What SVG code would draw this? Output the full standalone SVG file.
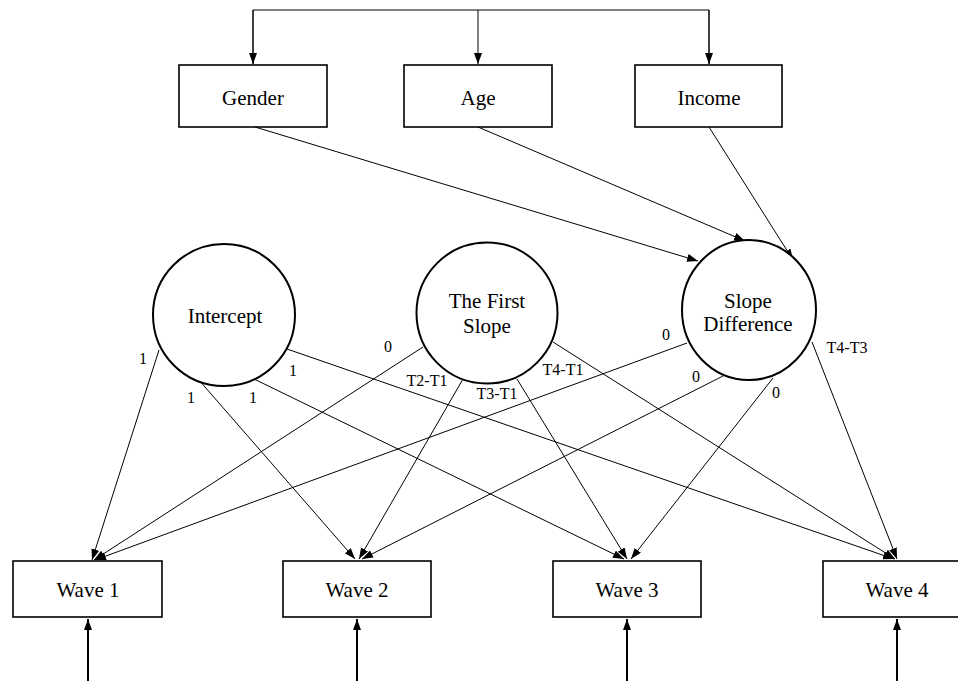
<svg xmlns="http://www.w3.org/2000/svg" width="958" height="681" viewBox="0 0 958 681">
<defs>
<marker id="ah" markerUnits="userSpaceOnUse" markerWidth="12" markerHeight="10" refX="11" refY="4" orient="auto">
<path d="M0,0 L11,4 L0,8 Z" fill="#000"/>
</marker>
<marker id="ahb" markerUnits="userSpaceOnUse" markerWidth="12" markerHeight="10" refX="11" refY="4" orient="auto">
<path d="M0,0 L11,4 L0,8 Z" fill="#000"/>
</marker>
</defs>
<style>
.box{fill:#fff;stroke:#000;stroke-width:1.6}
.circ{fill:#fff;stroke:#000;stroke-width:2}
.t{font-family:"Liberation Serif","Times New Roman",serif;font-size:21px;fill:#000;text-anchor:middle}
.lb{font-family:"Liberation Serif","Times New Roman",serif;font-size:16px;fill:#000;text-anchor:middle}
.c{fill:none;stroke:#000;stroke-width:1}
.cb{fill:none;stroke:#000;stroke-width:2}
</style>
<rect width="958" height="681" fill="#fff"/>
<g id="connectors">
<path class="c" d="M253,64 V10 H709 V64"/>
<path class="c" d="M253,10 V64" marker-end="url(#ah)"/>
<path class="c" d="M478,10 V64" marker-end="url(#ah)"/>
<path class="c" d="M709,10 V64" marker-end="url(#ah)"/>
<line class="c" x1="255" y1="127" x2="698" y2="261" marker-end="url(#ah)"/>
<line class="c" x1="478" y1="127" x2="745" y2="241" marker-end="url(#ah)"/>
<line class="c" x1="709" y1="127" x2="793" y2="260" marker-end="url(#ah)"/>
<line class="c" x1="159" y1="350" x2="92" y2="560" marker-end="url(#ah)"/>
<line class="c" x1="198" y1="379" x2="355" y2="559" marker-end="url(#ah)"/>
<line class="c" x1="254" y1="379" x2="624" y2="559" marker-end="url(#ah)"/>
<line class="c" x1="287" y1="349" x2="894" y2="559" marker-end="url(#ah)"/>
<line class="c" x1="423" y1="347" x2="94" y2="560" marker-end="url(#ah)"/>
<line class="c" x1="463" y1="379" x2="359" y2="559" marker-end="url(#ah)"/>
<line class="c" x1="517" y1="379" x2="627" y2="559" marker-end="url(#ah)"/>
<line class="c" x1="553" y1="342" x2="895" y2="559" marker-end="url(#ah)"/>
<line class="c" x1="687" y1="343" x2="95" y2="560" marker-end="url(#ah)"/>
<line class="c" x1="723" y1="376" x2="362" y2="559" marker-end="url(#ah)"/>
<line class="c" x1="773" y1="378" x2="631" y2="559" marker-end="url(#ah)"/>
<line class="c" x1="812" y1="342" x2="897" y2="559" marker-end="url(#ah)"/>
<line class="cb" x1="88" y1="681" x2="88" y2="619" marker-end="url(#ahb)"/>
<line class="cb" x1="357" y1="681" x2="357" y2="619" marker-end="url(#ahb)"/>
<line class="cb" x1="627" y1="681" x2="627" y2="619" marker-end="url(#ahb)"/>
<line class="cb" x1="897" y1="681" x2="897" y2="619" marker-end="url(#ahb)"/>
</g>
<g id="gender"><rect class="box" x="179" y="65" width="148" height="62"/><text class="t" x="253" y="105">Gender</text></g>
<g id="age"><rect class="box" x="404" y="65" width="148" height="62"/><text class="t" x="478" y="105">Age</text></g>
<g id="income"><rect class="box" x="635" y="65" width="147" height="62"/><text class="t" x="709" y="105">Income</text></g>
<g id="intercept"><circle class="circ" cx="224" cy="315" r="71"/><text class="t" x="225" y="323">Intercept</text></g>
<g id="firstslope"><circle class="circ" cx="487" cy="313" r="70.5"/><text class="t" x="487" y="308">The First</text><text class="t" x="487" y="333">Slope</text></g>
<g id="slopediff"><ellipse class="circ" cx="749" cy="310" rx="67" ry="70"/><text class="t" x="748" y="308">Slope</text><text class="t" x="748" y="331">Difference</text></g>
<g id="wave1"><rect class="box" x="13" y="561" width="149" height="56"/><text class="t" x="88" y="597">Wave 1</text></g>
<g id="wave2"><rect class="box" x="283" y="561" width="148" height="56"/><text class="t" x="357" y="597">Wave 2</text></g>
<g id="wave3"><rect class="box" x="553" y="561" width="148" height="56"/><text class="t" x="627" y="597">Wave 3</text></g>
<g id="wave4"><rect class="box" x="823" y="561" width="148" height="56"/><text class="t" x="897" y="597">Wave 4</text></g>
<g id="labels">
<text class="lb" x="143" y="364">1</text>
<text class="lb" x="191" y="403">1</text>
<text class="lb" x="253" y="403">1</text>
<text class="lb" x="293" y="376">1</text>
<text class="lb" x="388" y="352">0</text>
<text class="lb" x="427" y="386">T2-T1</text>
<text class="lb" x="497" y="399">T3-T1</text>
<text class="lb" x="563" y="375">T4-T1</text>
<text class="lb" x="666" y="340">0</text>
<text class="lb" x="696" y="382">0</text>
<text class="lb" x="776" y="398">0</text>
<text class="lb" x="847" y="353">T4-T3</text>
</g>
</svg>
